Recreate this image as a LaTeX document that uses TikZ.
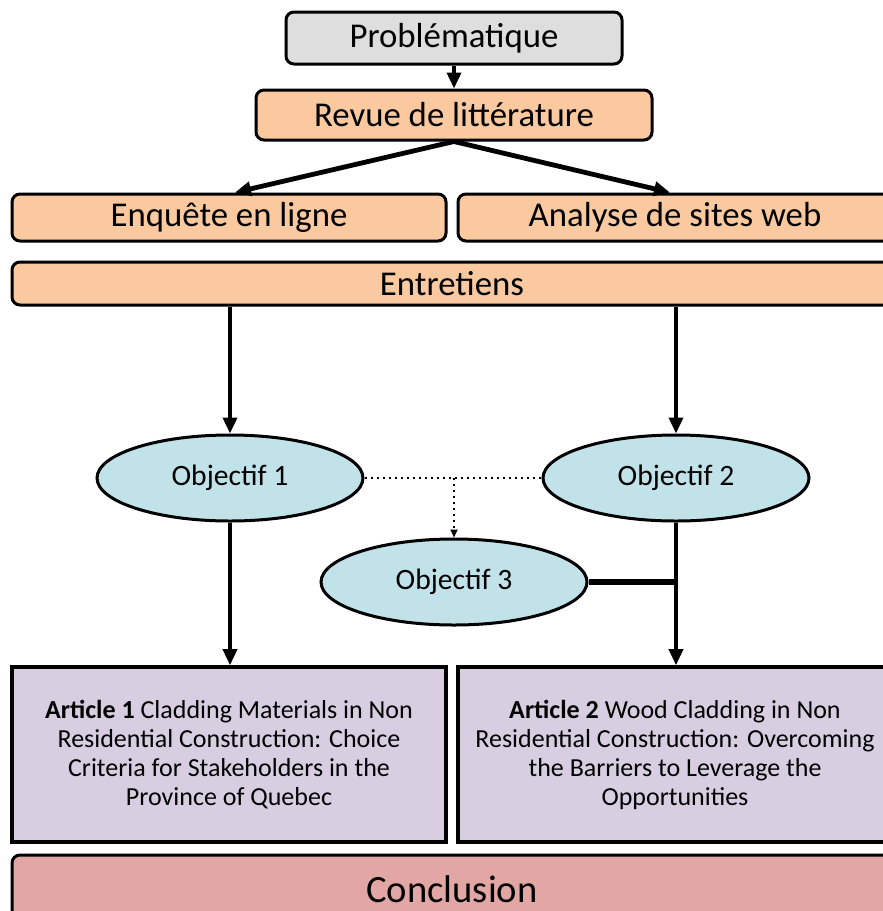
\documentclass[tikz,border=0pt]{standalone}
\usepackage{fontspec}
\setmainfont{Carlito}
\usetikzlibrary{arrows.meta,shapes.geometric}
\definecolor{gris}{RGB}{222,222,222}
\definecolor{peche}{RGB}{250,201,160}
\definecolor{bleu}{RGB}{194,226,234}
\definecolor{lavande}{RGB}{216,206,226}
\definecolor{rose}{RGB}{226,166,164}
\begin{document}
\begin{tikzpicture}[x=0.5pt,y=-0.5pt,
	boite/.style={draw,line width=1.5pt,rounded corners=4pt,inner sep=0pt,fill=peche,font=\fontsize{17.4}{20}\selectfont},
	obj/.style={ellipse,draw,line width=1.5pt,fill=bleu,minimum width=133pt,minimum height=43pt,inner sep=0pt,font=\fontsize{14.8}{17}\selectfont},
	article/.style={draw,line width=1.8pt,fill=lavande,minimum width=217pt,minimum height=87.5pt,inner sep=0pt,align=center,font=\fontsize{13}{14.5}\selectfont},
	fl/.style={line width=1.8pt,-{Triangle[length=8pt,width=7pt]}},
	fld/.style={line width=1pt,dotted,-{Triangle[length=4pt,width=3.5pt]}}]
		\clip (0,0) rectangle (883,911);
		\node[boite,fill=gris,minimum width=168pt,minimum height=26pt] (prob) at (454,38) {Problématique};
		\node[boite,minimum width=198pt,minimum height=25pt] (revue) at (454,115) {Revue de littérature};
		\node[boite,minimum width=217pt,minimum height=23.5pt] (enquete) at (229,217.5) {Enquête en ligne};
		\node[boite,minimum width=217pt,minimum height=23.5pt] (analyse) at (675,217.5) {Analyse de sites web};
		\node[boite,minimum width=440pt,minimum height=21.5pt] (entretiens) at (452,283.5) {Entretiens};
		
		\node[obj] (obj1) at (230,478) {Objectif 1};
		\node[obj] (obj2) at (676,478) {Objectif 2};
		\node[obj] (obj3) at (454,582) {Objectif 3};
		\coordinate (mil) at (454,478);
		
		\node[article] (art1) at (229,754.5) {\textbf{Article 1} Cladding Materials in Non\\Residential Construction: Choice\\Criteria for Stakeholders in the\\Province of Quebec};
		\node[article] (art2) at (675,754.5) {\textbf{Article 2} Wood Cladding in Non\\Residential Construction: Overcoming\\the Barriers to Leverage the\\Opportunities};
		\node[boite,fill=rose,minimum width=440pt,minimum height=34pt,font=\fontsize{19.3}{22}\selectfont] (concl) at (452,889) {Conclusion};
		
		\draw[fl] (prob) -- (revue);
		\draw[fl,line width=2.4pt] (revue.south) -- ([xshift=3pt]enquete.north);
		\draw[fl,line width=2.4pt] (revue.south) -- ([xshift=-2.5pt]analyse.north);
		\draw[fl] (entretiens.south -| obj1.north) -- (obj1.north);
		\draw[fl] (entretiens.south -| obj2.north) -- (obj2.north);
		\draw[line width=1pt,dotted] (obj1.east) -- (obj2.west);
		\draw[fld] (mil) -- (obj3.north);
		\draw[fl] (obj1.south) -- (obj1.south |- art1.north);
		\draw[fl] (obj2.south) -- (obj2.south |- art2.north);
		\draw[line width=2.6pt] (obj3.east) -- (obj3.east -| obj2.south);
\end{tikzpicture}
\end{document}
